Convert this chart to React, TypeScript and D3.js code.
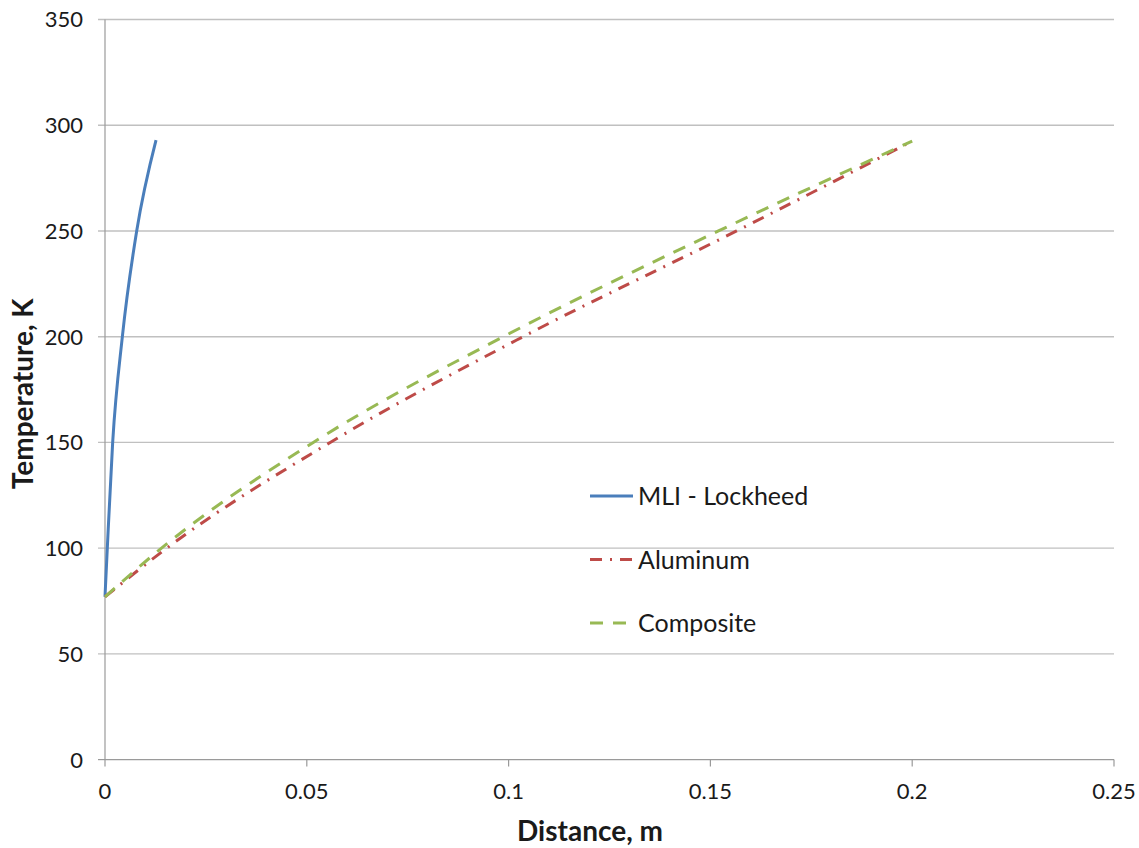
import React from 'react';
import * as d3 from 'd3';

const width = 1139;
const height = 848;
const margin = { left: 105, right: 25, top: 19.5, bottom: 88.4 };
const font = 'Lato, "Open Sans", sans-serif';

// readings (distance in m, temperature in K)
const mliX = [0, 0.00057, 0.0019, 0.0043, 0.00785, 0.01264];
const mliT = [77, 100, 150, 200, 250, 293];
const aluX = [0, 0.0153, 0.0558, 0.1036, 0.1565, 0.2];
const aluT = [77, 100, 150, 200, 250, 292.5];
const compX = [0, 0.014, 0.0516, 0.0987, 0.152, 0.2];
const compT = [77, 100, 150, 200, 250, 292.5];

const xTicks = [0, 0.05, 0.1, 0.15, 0.2, 0.25];
const yTicks = [0, 50, 100, 150, 200, 250, 300, 350];

const series = [
  { name: 'MLI - Lockheed', xs: mliX, ts: mliT, color: '#4a7ebb', dash: '', w: 3 },
  { name: 'Aluminum', xs: aluX, ts: aluT, color: '#be4b48', dash: '12,8,2,8', w: 3 },
  { name: 'Composite', xs: compX, ts: compT, color: '#98b954', dash: '13,10', w: 3 },
];

const x = d3.scaleLinear().domain([0, 0.25]).range([margin.left, width - margin.right]);
const y = d3.scaleLinear().domain([0, 350]).range([height - margin.bottom, margin.top]);

const line = d3
  .line<[number, number]>()
  .x((d) => x(d[0]))
  .y((d) => y(d[1]))
  .curve(d3.curveMonotoneX);

const App = () => {
  const x0 = x(0);
  const x1 = x(0.25);
  const y0 = y(0);
  return (
    <svg width={width} height={height} style={{ position: 'absolute', left: 0, top: 0, background: '#fff' }}>
      {/* gridlines + y ticks */}
      {yTicks.map((t) => (
        <g key={t}>
          {t > 0 && <line x1={x0 - 7} x2={x1} y1={y(t)} y2={y(t)} stroke="#c0c0c0" strokeWidth={1.4} />}
          {t === 0 && <line x1={x0 - 7} x2={x0} y1={y(t)} y2={y(t)} stroke="#9a9a9a" strokeWidth={1.2} />}
          <text x={83} y={y(t)} dy="0.36em" textAnchor="end" fontFamily={font} fontSize={22} fill="#1a1a1a">
            {t}
          </text>
        </g>
      ))}
      {/* axes */}
      <line x1={x0} x2={x0} y1={margin.top} y2={y0} stroke="#9a9a9a" strokeWidth={1.2} />
      <line x1={x0} x2={x1} y1={y0} y2={y0} stroke="#9a9a9a" strokeWidth={1.2} />
      {xTicks.map((t) => (
        <g key={t}>
          <line x1={x(t)} x2={x(t)} y1={y0} y2={y0 + 7} stroke="#9a9a9a" strokeWidth={1.2} />
          <text x={x(t)} y={799} textAnchor="middle" fontFamily={font} fontSize={22} fill="#1a1a1a">
            {t}
          </text>
        </g>
      ))}

      {series.map((s) => (
        <path
          key={s.name}
          d={line(s.xs.map((v, i) => [v, s.ts[i]] as [number, number])) || ''}
          fill="none"
          stroke={s.color}
          strokeWidth={s.w}
          strokeDasharray={s.dash || undefined}
        />
      ))}

      {/* legend */}
      {series.map((s, i) => (
        <g key={s.name} transform={`translate(590,${496 + i * 63.5})`}>
          <line x1={0} x2={43} y1={0} y2={0} stroke={s.color} strokeWidth={s.w} strokeDasharray={s.dash || undefined} />
          <text x={48} y={0} dy="0.36em" fontFamily={font} fontSize={25} fill="#1a1a1a">
            {s.name}
          </text>
        </g>
      ))}

      {/* axis titles */}
      <text x={590} y={841} textAnchor="middle" fontFamily={font} fontWeight="bold" fontSize={28} fill="#1a1a1a">
        Distance, m
      </text>
      <text
        transform={`translate(33,${y(173)}) rotate(-90)`}
        textAnchor="middle"
        fontFamily={font}
        fontWeight="bold"
        fontSize={28}
        fill="#1a1a1a"
      >
        Temperature, K
      </text>
    </svg>
  );
};

export default App;
